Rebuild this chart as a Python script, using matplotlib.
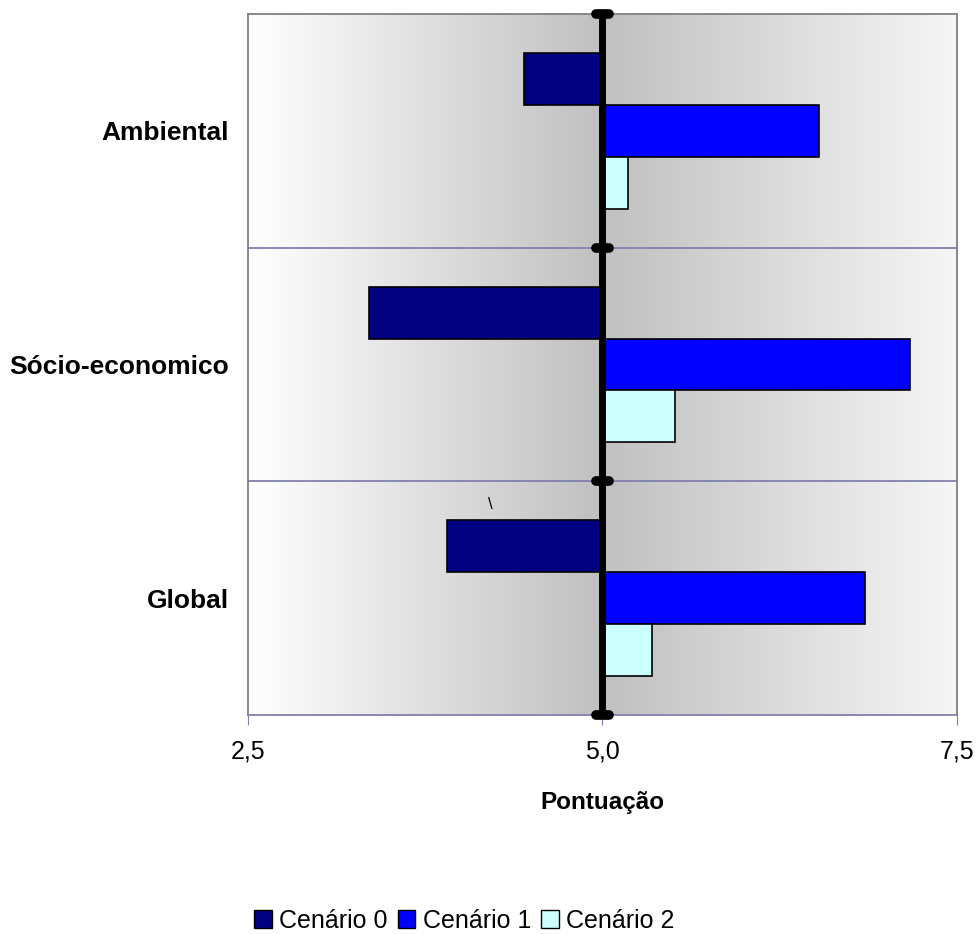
import numpy as np
import matplotlib
matplotlib.use("Agg")
import matplotlib.pyplot as plt
from matplotlib.colors import LinearSegmentedColormap
from matplotlib.patches import Patch

plt.rcParams['font.family'] = ['Liberation Sans', 'DejaVu Sans']

categories = ['Global', 'Sócio-economico', 'Ambiental']
series_names = ['Cenário 0', 'Cenário 1', 'Cenário 2']
cenario_0 = [3.90, 3.35, 4.45]
cenario_1 = [6.85, 7.17, 6.53]
cenario_2 = [5.35, 5.51, 5.18]
x_ticks = [2.5, 5.0, 7.5]
x_tick_labels = ['2,5', '5,0', '7,5']

colors = ['#000080', '#0000FF', '#CCFFFF']
baseline = 5.0
bar_h = 0.222

fig = plt.figure(figsize=(9.76, 9.34), dpi=100)
ax = fig.add_axes([0.2541, 0.2345, 0.7264, 0.7505])
ax.set_xlim(2.5, 7.5)
ax.set_ylim(-0.5, len(categories) - 0.5)

# background gradient: white -> grey at centre -> light grey
cmap = LinearSegmentedColormap.from_list('bg', [(0, '#FFFFFF'), (0.5, '#C0C0C0'), (1, '#F6F6F6')])
grad = np.linspace(0, 1, 512).reshape(1, -1)
ax.imshow(grad, cmap=cmap, aspect='auto', extent=[2.5, 7.5, -0.5, len(categories) - 0.5], zorder=0)

y = np.arange(len(categories))
for i, (vals, c) in enumerate(zip([cenario_0, cenario_1, cenario_2], colors)):
    widths = np.array(vals) - baseline
    ax.barh(y + bar_h * (1 - i), widths, height=bar_h, left=baseline,
            color=c, edgecolor='black', linewidth=1.2, zorder=3)

# category separators
for yy in y[:-1] + 0.5:
    ax.axhline(yy, color='#8080B0', lw=1.3, zorder=2)

# thick category axis at 5.0 with rounded caps
ax.plot([baseline, baseline], [-0.5, len(categories) - 0.5], color='black', lw=5,
        zorder=4, clip_on=False)
for yy in np.arange(len(categories) + 1) - 0.5:
    ax.plot([baseline - 0.045, baseline + 0.045], [yy, yy], color='black', lw=7,
            solid_capstyle='round', zorder=5, clip_on=False)

ax.text(4.21, 0.40, '\\', fontsize=12, ha='center', va='center', zorder=6)

ax.set_yticks(y)
ax.set_yticklabels(categories, fontsize=19, fontweight='bold')
ax.tick_params(axis='y', length=0, pad=14)
ax.set_xticks(x_ticks)
ax.set_xticklabels(x_tick_labels, fontsize=18)
ax.tick_params(axis='x', length=7, color='#8080B0', pad=11)
ax.set_xlabel('Pontuação', fontsize=17.5, fontweight='bold')
ax.xaxis.set_label_coords(0.5, -0.125)
ax.xaxis.label.set_va('center')

for s in ['top', 'left', 'right']:
    ax.spines[s].set_color('#808080')
    ax.spines[s].set_linewidth(1.3)
ax.spines['bottom'].set_color('#8080B0')
ax.spines['bottom'].set_linewidth(1.3)

handles = [Patch(facecolor=c, edgecolor='black', linewidth=1) for c in colors]
fig.legend(handles, series_names, loc='center', bbox_to_anchor=(0.476, 0.014),
           ncol=3, frameon=False, fontsize=18, handlelength=0.7, handleheight=0.7,
           handletextpad=0.3, columnspacing=0.4, borderpad=0)

fig.savefig('out.png', dpi=100)
